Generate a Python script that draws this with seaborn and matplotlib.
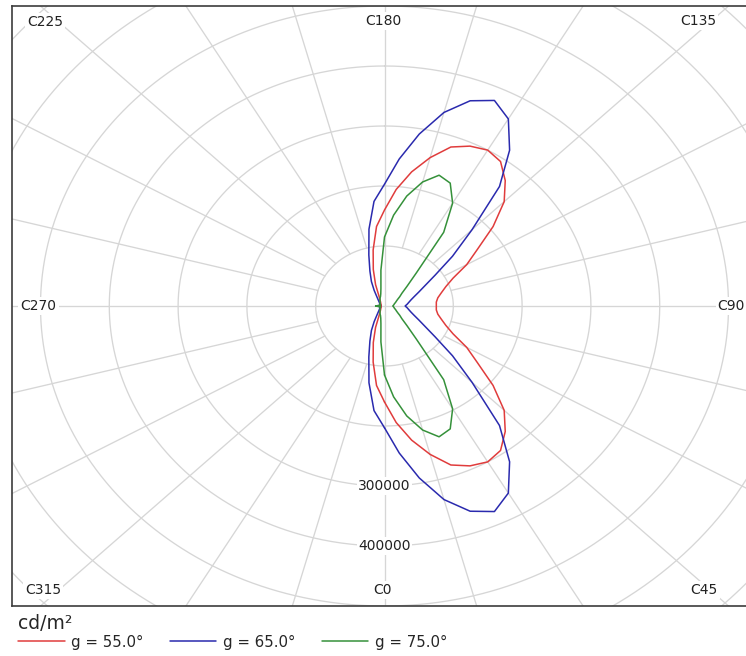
import numpy as np
import pandas as pd
import matplotlib
matplotlib.use("Agg")
import matplotlib.pyplot as plt
import seaborn as sns

# ---------------- data (luminance in cd/m² per C-plane) ----------------
c_angles = list(range(0, 360, 5))

lum_g55 = [160000, 195000, 227000, 256000, 282000, 294000, 300000, 294000, 273000, 246000,
           206000, 165000, 138000, 110000, 95000, 85600, 78700, 75600, 75300, 75600,
           78700, 85600, 95000, 110000, 138000, 165000, 206000, 246000, 273000, 294000,
           300000, 294000, 282000, 256000, 227000, 195000, 160000, 133000, 95000, 63000,
           38000, 20000, 14000, 11000, 9000, 8000, 7000, 6500, 6000, 5500,
           5000, 5000, 5000, 8000, 12000, 8000, 5000, 5000, 5000, 5500,
           6000, 6500, 7000, 8000, 9000, 11000, 14000, 20000, 38000, 63000,
           95000, 133000]

lum_g65 = [203000, 246000, 291000, 334000, 364000, 378000, 360000, 317000, 260000, 180000,
           129000, 90000, 68000, 55000, 46000, 40000, 36000, 33000, 30000, 33000,
           36000, 40000, 46000, 55000, 68000, 90000, 129000, 180000, 260000, 317000,
           360000, 378000, 364000, 334000, 291000, 246000, 203000, 175000, 130000, 88000,
           62000, 45000, 30000, 20000, 15000, 12000, 10000, 9000, 8000, 7000,
           6500, 6000, 6000, 8500, 12500, 8500, 6000, 6000, 6500, 7000,
           8000, 9000, 10000, 12000, 15000, 20000, 30000, 45000, 62000, 88000,
           130000, 175000]

lum_g75 = [115000, 152000, 186000, 214000, 232000, 226000, 198000, 150000, 72000, 46000,
           33000, 27000, 22000, 19000, 17000, 15000, 14000, 13000, 12000, 13000,
           14000, 15000, 17000, 19000, 22000, 27000, 33000, 46000, 72000, 150000,
           198000, 226000, 232000, 214000, 186000, 152000, 115000, 60000, 30000, 21000,
           17000, 15000, 13000, 11500, 10000, 9000, 8500, 8000, 7500, 7000,
           6500, 6000, 6000, 9000, 13000, 9000, 6000, 6000, 6500, 7000,
           7500, 8000, 8500, 9000, 10000, 11500, 13000, 15000, 17000, 21000,
           30000, 60000]

series_labels = ["g = 55.0°", "g = 65.0°", "g = 75.0°"]
series_colors = ["#e03c3c", "#2a2aae", "#35913a"]

ring_values = [100000, 200000, 300000, 400000, 500000, 600000, 700000, 800000]
ring_label_values = [300000, 400000]
spoke_step = 15

c_plane_labels = ["C225", "C180", "C135", "C270", "C90", "C315", "C0", "C45"]
c_plane_label_pos = [(0.045, 0.974), (0.506, 0.975), (0.935, 0.975),
                     (0.036, 0.5), (0.980, 0.5),
                     (0.042, 0.027), (0.505, 0.027), (0.943, 0.027)]

unit_label = "cd/m²"

# ---------------- build table ----------------
rows = []
for label, lums in zip(series_labels, [lum_g55, lum_g65, lum_g75]):
    cs = c_angles + [c_angles[0]]
    vs = lums + [lums[0]]
    for i, (c, v) in enumerate(zip(cs, vs)):
        t = np.deg2rad(c)
        rows.append({"series": label, "idx": i, "x": v * np.sin(t), "y": -v * np.cos(t)})
df = pd.DataFrame(rows)

sns.set_theme(style="white")
plt.rcParams["font.family"] = ["DejaVu Sans"]

W, H = 746, 656
fig = plt.figure(figsize=(W / 100, H / 100), dpi=100)
ax = fig.add_axes([12 / W, 1 - 606 / H, 734 / W, 600 / H])
ax.set_xlim(-541400, 525400)
ax.set_ylim(-500000, 500000)

grid_color = "#d6d6d6"
grid_lw = 0.95
th = np.linspace(0, 2 * np.pi, 721)
for rv in ring_values:
    ax.plot(rv * np.sin(th), rv * np.cos(th), color=grid_color, lw=grid_lw, zorder=1)
rmax = 1000000
for a in range(0, 360, spoke_step):
    t = np.deg2rad(a)
    r0 = 0 if a % 90 == 0 else ring_values[0]
    ax.plot([r0 * np.sin(t), rmax * np.sin(t)], [-r0 * np.cos(t), -rmax * np.cos(t)],
            color=grid_color, lw=grid_lw, zorder=1)

palette = dict(zip(series_labels, series_colors))
sns.lineplot(data=df, x="x", y="y", hue="series", hue_order=series_labels,
             palette=palette, sort=False, estimator=None, lw=1.1, ax=ax, zorder=3)

for rv in ring_label_values:
    ax.text(0, -rv, f"{rv}", ha="center", va="center", fontsize=10, color="#222222",
            bbox=dict(boxstyle="square,pad=0.12", fc="white", ec="none"), zorder=2)

for lab, (xf, yf) in zip(c_plane_labels, c_plane_label_pos):
    ax.text(xf, yf, lab, transform=ax.transAxes, ha="center", va="center",
            fontsize=10, color="#222222",
            bbox=dict(boxstyle="square,pad=0.15", fc="white", ec="none"), zorder=2)

ax.set_xticks([])
ax.set_yticks([])
ax.set_xlabel("")
ax.set_ylabel("")
for side in ["left", "top", "bottom"]:
    ax.spines[side].set_visible(True)
    ax.spines[side].set_color("#3c3c3c")
    ax.spines[side].set_linewidth(1.2)
ax.spines["right"].set_visible(False)

handles, labels = ax.get_legend_handles_labels()
if ax.get_legend() is not None:
    ax.get_legend().remove()
fig.legend(handles, labels, title=unit_label, ncol=3, loc="upper left",
           bbox_to_anchor=(18 / W, 1 - 614 / H), frameon=False, fontsize=10.8,
           title_fontsize=13.5, handlelength=3.1, handletextpad=0.45,
           columnspacing=1.75, alignment="left", borderpad=0, borderaxespad=0,
           labelspacing=0.1)

fig.savefig("out.png", dpi=100)
